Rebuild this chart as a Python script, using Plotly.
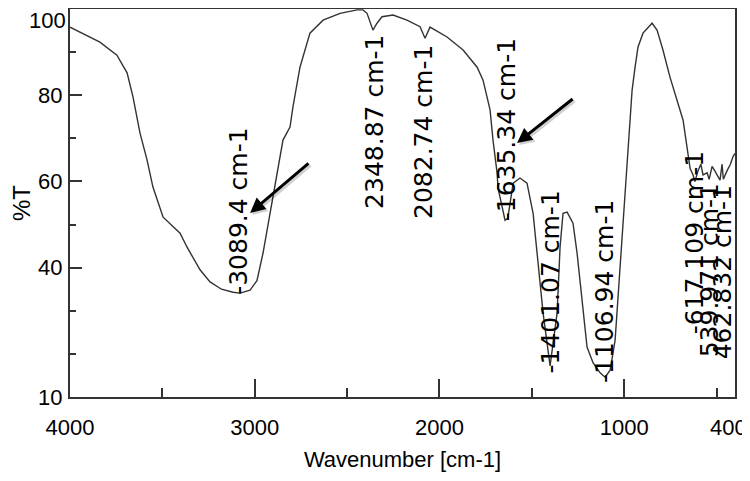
import plotly.graph_objects as go

# Spectrum (wavenumber in cm-1, transmittance in %T)
wavenumber = [4000, 3838, 3746, 3691, 3659, 3621, 3583, 3551, 3496, 3404, 3367, 3296, 3242,
              3180, 3117, 3080, 3025, 2988, 2955, 2917, 2879, 2847, 2809, 2793, 2755, 2701,
              2630, 2538, 2446, 2414, 2392, 2360, 2338, 2311, 2251, 2176, 2105, 2078, 2051,
              1959, 1872, 1796, 1764, 1726, 1710, 1688, 1683, 1660, 1645, 1630, 1601, 1564,
              1526, 1493, 1466, 1439, 1401, 1363, 1347, 1331, 1309, 1277, 1255, 1228, 1201,
              1168, 1130, 1103, 1076, 1049, 1033, 1006, 984, 968, 957, 941, 925, 898, 849,
              822, 790, 752, 714, 681, 660, 643, 627, 617, 600, 585, 573, 551, 540, 524, 510,
              497, 481, 470, 463, 443, 425, 411, 400]
transmittance = [95.8, 92.3, 89.3, 85.2, 79.6, 71.2, 65.0, 58.7, 51.7, 48.0, 44.8, 39.5, 36.7,
                 35.0, 34.3, 34.1, 34.8, 37.0, 43.4, 52.6, 62.0, 69.6, 72.6, 77.3, 86.5, 94.4,
                 97.4, 99.0, 99.8, 99.8, 99.0, 95.1, 96.7, 98.2, 98.6, 97.4, 95.9, 93.2, 95.8,
                 93.5, 90.5, 86.5, 83.5, 76.6, 69.6, 62.0, 58.5, 54.0, 51.0, 51.5, 59.6, 60.8,
                 59.6, 52.6, 41.0, 29.5, 17.2, 29.5, 44.8, 52.6, 52.9, 50.3, 43.4, 33.2, 21.6,
                 17.9, 15.6, 14.6, 16.2, 23.2, 33.2, 48.7, 62.0, 72.0, 81.2, 86.5, 91.2, 94.4,
                 96.7, 95.1, 90.5, 84.2, 78.9, 74.2, 68.0, 63.0, 61.5, 60.0, 62.5, 64.0, 61.5,
                 62.0, 60.5, 63.5, 62.5, 61.5, 60.3, 64.0, 60.5, 62.5, 64.0, 65.7, 66.5]

# Peak labels
peak_wavenumbers = [3089.4, 2348.87, 2082.74, 1635.34, 1401.07, 1106.94, 617.109, 539.971, 462.832]
peak_texts = ["-3089.4 cm-1", "2348.87 cm-1", "2082.74 cm-1", "-1635.34 cm-1", "-1401.07 cm-1",
              "-1106.94 cm-1", "-617.109 cm-1", "539.971 cm-1", "462.832 cm-1"]
label_base_T = [33.4, 53.4, 51.1, 50.6, 15.1, 13.0, 24.4, 19.0, 18.6]

# Arrows (head and tail, in data units)
arrow_heads = [(3025, 52.7), (1580, 68.9)]
arrow_tails = [(2701, 64.5), (1271, 79.4)]

x_ticks = [4000, 3000, 2000, 1000, 400]
x_ticktext = ["4000", "3000", "2000", "1000", ""]   # "400" drawn separately to keep it inside the page
x_end_label = "400"
x_minor = [3500, 2500, 1500, 500]
y_ticks = [10, 40, 60, 80, 100]
y_ticktext = ["10", "40", "60", "80", ""]   # "100" drawn separately so it is not clipped at the top
y_top_label = "100"
y_minor = [20, 30, 50, 70, 90]

TICKFONT = "Liberation Sans, Arial, sans-serif"

fig = go.Figure()
fig.add_trace(go.Scatter(x=wavenumber, y=transmittance, mode="lines",
                         line=dict(color="#333333", width=1.4), showlegend=False,
                         hoverinfo="x+y"))

annotations = []
for wn, txt, base in zip(peak_wavenumbers, peak_texts, label_base_T):
    annotations.append(dict(x=wn, y=base, xref="x", yref="y", text=txt, textangle=-90,
                            showarrow=False, xanchor="center", yanchor="bottom",
                            font=dict(family="DejaVu Sans", size=25, color="black"),
                            borderpad=0))
for (hx, hy), (tx, ty) in zip(arrow_heads, arrow_tails):
    # soft shadow
    annotations.append(dict(x=hx, y=hy, ax=tx, ay=ty, xref="x", yref="y", axref="x", ayref="y",
                            text="", showarrow=True, arrowhead=2, arrowsize=1, arrowwidth=3,
                            arrowcolor="rgba(0,0,0,0.18)", xshift=2, yshift=-2))
    annotations.append(dict(x=hx, y=hy, ax=tx, ay=ty, xref="x", yref="y", axref="x", ayref="y",
                            text="", showarrow=True, arrowhead=2, arrowsize=1, arrowwidth=3,
                            arrowcolor="black"))
annotations.append(dict(x=0, y=1, xref="paper", yref="paper", text=y_top_label, showarrow=False,
                        xanchor="right", yanchor="top", xshift=-3, yshift=2, borderpad=0,
                        font=dict(family=TICKFONT, size=22, color="black")))
annotations.append(dict(x=x_ticks[-1], y=0, xref="x", yref="paper", text=x_end_label, showarrow=False,
                        xanchor="right", yanchor="middle", xshift=13, yshift=-30, borderpad=0,
                        font=dict(family=TICKFONT, size=22, color="black")))

fig.update_layout(
    width=750, height=481,
    margin=dict(l=62, r=23, t=1, b=92, autoexpand=False),
    paper_bgcolor="white", plot_bgcolor="white",
    annotations=annotations,
    xaxis=dict(range=[4000, 400], tickvals=x_ticks, ticktext=x_ticktext,
               ticks="inside", ticklen=18, tickwidth=2, tickcolor="#333333",
               minor=dict(tickvals=x_minor, ticks="inside", ticklen=9, tickwidth=2, tickcolor="#333333"),
               showline=True, mirror=True, linecolor="#333333", linewidth=2,
               showgrid=False, zeroline=False, ticklabelstandoff=10, automargin=False,
               ticklabeloverflow="allow",
               tickfont=dict(family=TICKFONT, size=22, color="black"),
               title=dict(text="Wavenumber [cm-1]", standoff=12,
                          font=dict(family=TICKFONT, size=22, color="black"))),
    yaxis=dict(range=[10, 100], tickvals=y_ticks, ticktext=y_ticktext,
               ticks="inside", ticklen=12, tickwidth=2, tickcolor="#333333",
               minor=dict(tickvals=y_minor, ticks="inside", ticklen=6, tickwidth=2, tickcolor="#333333"),
               showline=True, mirror=True, linecolor="#333333", linewidth=2,
               showgrid=False, zeroline=False, ticklabelstandoff=1, automargin=False,
               ticklabeloverflow="allow",
               tickfont=dict(family=TICKFONT, size=22, color="black"),
               title=dict(text="%T", standoff=17,
                          font=dict(family=TICKFONT, size=24, color="black"))),
)

fig.write_html("out.html")
